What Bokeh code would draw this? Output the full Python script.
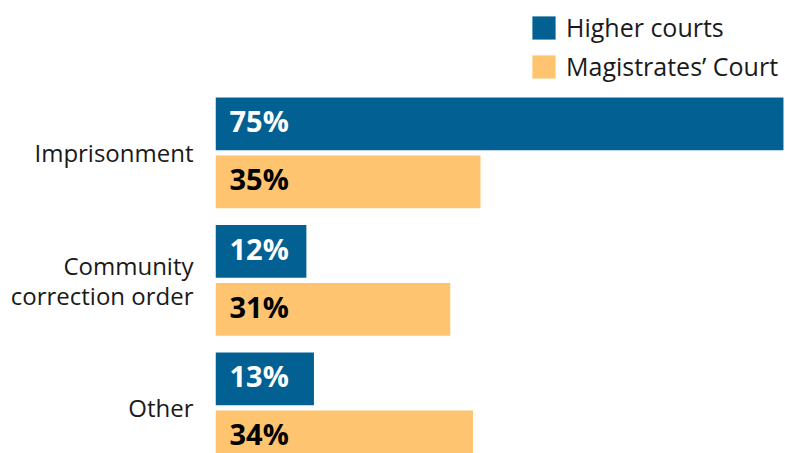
import numpy as np
from bokeh.plotting import figure
from bokeh.models import ColumnDataSource, Range1d, FixedTicker, Legend
from bokeh.core.properties import value
from bokeh.embed import file_html
from bokeh.resources import INLINE

categories = ["Imprisonment", "Community correction order", "Other"]
category_labels = ["Imprisonment", "Community\ncorrection order", "Other"]
series_names = ["Higher courts", "Magistrates\u2019 Court"]
higher_courts = [75, 12, 13]
magistrates_court = [35, 31, 34]

BLUE = "#036093"
YELLOW = "#FFC46F"
FONT = "Open Sans"

pos = np.arange(len(categories), dtype=float)
offset = 0.2275
bar_h = 0.414

src_h = ColumnDataSource(dict(y=pos - offset, v=higher_courts,
                              lab=[f"{v}%" for v in higher_courts]))
src_m = ColumnDataSource(dict(y=pos + offset, v=magistrates_court,
                              lab=[f"{v}%" for v in magistrates_court]))

p = figure(width=785, height=453, output_backend="svg", toolbar_location=None,
           x_range=Range1d(0, 75.27), y_range=Range1d(2.358, -1.195),
           min_border_left=215, min_border_right=0, min_border_top=0,
           min_border_bottom=0)

r1 = p.hbar(y="y", right="v", left=0, height=bar_h, source=src_h,
            fill_color=BLUE, line_color=None)
r2 = p.hbar(y="y", right="v", left=0, height=bar_h, source=src_m,
            fill_color=YELLOW, line_color=None)

p.text(x=0, y="y", text="lab", source=src_h, x_offset=14, y_offset=-3,
       text_baseline="middle", text_align="left", text_color="white",
       text_font=value(FONT), text_font_size="29px", text_font_style="bold")
p.text(x=0, y="y", text="lab", source=src_m, x_offset=14, y_offset=-3,
       text_baseline="middle", text_align="left", text_color="black",
       text_font=value(FONT), text_font_size="29px", text_font_style="bold")

legend = Legend(items=[(series_names[0], [r1]), (series_names[1], [r2])],
                location=(314, 370))
legend.border_line_color = None
legend.background_fill_alpha = 0
legend.label_text_font = FONT
legend.label_text_font_size = "25px"
legend.label_text_color = "#1a1a1a"
legend.glyph_width = 29
legend.glyph_height = 29
legend.label_height = 29
legend.label_standoff = 8
legend.spacing = 5
legend.padding = 0
legend.margin = 0
p.add_layout(legend)

p.xaxis.visible = False
p.xgrid.visible = False
p.ygrid.visible = False
p.outline_line_color = None

ax = p.yaxis[0]
ax.ticker = FixedTicker(ticks=list(pos))
ax.major_label_overrides = {float(i): category_labels[i] for i in range(len(categories))}
ax.major_label_overrides.update({int(i): category_labels[i] for i in range(len(categories))})
ax.axis_line_color = None
ax.major_tick_line_color = None
ax.minor_tick_line_color = None
ax.major_tick_in = 0
ax.major_tick_out = 0
ax.major_label_standoff = 22
ax.major_label_text_font = FONT
ax.major_label_text_font_size = "24px"
ax.major_label_text_color = "#1a1a1a"
ax.major_label_text_line_height = 0.92

open("out.html", "w").write(file_html(p, INLINE))
